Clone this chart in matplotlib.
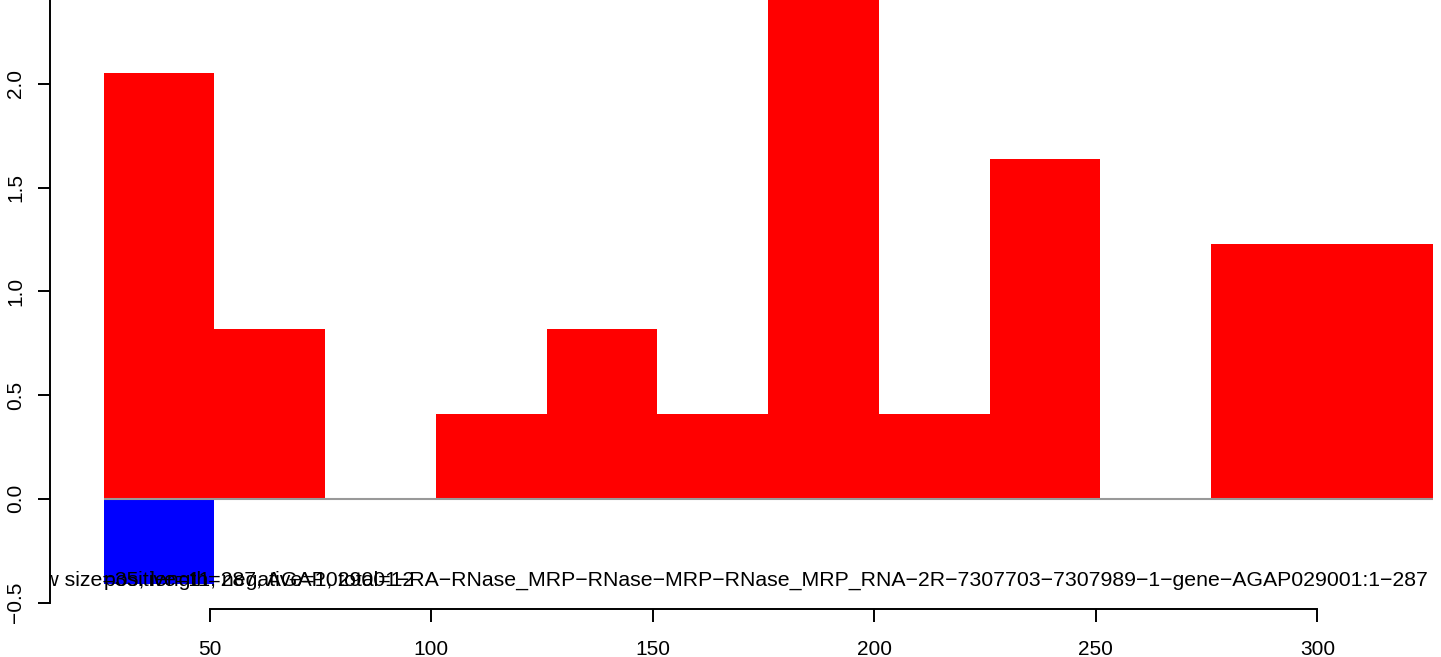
import matplotlib
matplotlib.use("Agg")
import matplotlib.pyplot as plt

plt.rcParams['font.family'] = ['Liberation Sans', 'DejaVu Sans']

# bin left edges (window positions) and stacked heights
bin_starts = [26, 51, 76, 101, 126, 151, 176, 201, 226, 251, 276, 301]
positive = [2.05, 0.82, 0.0, 0.41, 0.82, 0.41, 2.46, 0.41, 1.64, 0.0, 1.23, 1.23]
negative = [-0.41, 0, 0, 0, 0, 0, 0, 0, 0, 0, 0, 0]
bin_width = 25

y_ticks = [-0.5, 0.0, 0.5, 1.0, 1.5, 2.0]
y_labels = ["\u22120.5", "0.0", "0.5", "1.0", "1.5", "2.0"]
x_ticks = [50, 100, 150, 200, 250, 300]

# R draws '-' as a real minus sign
title_main = ("window size=35, length=287, AGAP029001-RA-RNase_MRP-RNase-MRP-"
              "RNase_MRP_RNA-2R-7307703-7307989-1-gene-AGAP029001:1-287").replace("-", "\u2212")
title_counts = "positive=11, negative=1, total=12"

W, H = 1441, 657
fig = plt.figure(figsize=(W / 100, H / 100), dpi=100)
ax = fig.add_axes([50 / W, (H - 609) / H, (W - 50) / W, 609 / H])

ax.bar(bin_starts, positive, width=bin_width, align='edge', color='#ff0000', linewidth=0)
ax.bar(bin_starts, negative, width=bin_width, align='edge', color='#0000ff', linewidth=0)
ax.hlines(0, bin_starts[0], bin_starts[-1] + bin_width, color='#999999', linewidth=1.5, zorder=1)

ax.set_xlim(13.9, 327.9)
ax.set_ylim(-0.531, 2.404)

ax.text(0, -0.418, title_main, ha='left', va='baseline', fontsize=15.3, clip_on=True)
ax.text(bin_starts[0], -0.418, title_counts, ha='left', va='baseline', fontsize=15.3, clip_on=True)

for s in ['top', 'right']:
    ax.spines[s].set_visible(False)
ax.spines['left'].set_bounds(-0.5, 2.404)
ax.spines['bottom'].set_bounds(50, 300)
ax.spines['left'].set_linewidth(1.4)
ax.spines['bottom'].set_linewidth(1.4)

ax.set_yticks(y_ticks)
ax.set_yticklabels(y_labels, rotation=90, va='center')
ax.set_xticks(x_ticks)
ax.tick_params(axis='both', length=9, width=1.4, labelsize=15)
ax.tick_params(axis='x', pad=13)
ax.tick_params(axis='y', pad=9)

fig.savefig("out.png", dpi=100)
